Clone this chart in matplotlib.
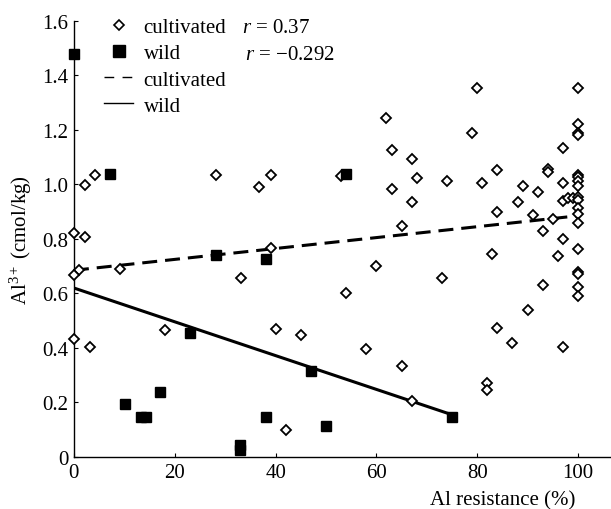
import numpy as np
import matplotlib
matplotlib.use("Agg")
import matplotlib.pyplot as plt
from matplotlib.lines import Line2D

plt.rcParams['font.family'] = ['Liberation Serif', 'DejaVu Serif']
plt.rcParams['mathtext.fontset'] = 'custom'
plt.rcParams['mathtext.rm'] = 'Liberation Serif'
plt.rcParams['mathtext.it'] = 'Liberation Serif:italic'
plt.rcParams['font.size'] = 15

# cultivated accessions: Al resistance (%) vs Al3+ (cmol/kg)
cult_x = [0.1, 2.1, 1.0, 0.1, 0.1, 3.2, 2.1, 4.1, 9.1, 18.1, 28.1, 33.1, 36.7, 39, 39,
          40.1, 42.1, 45.1, 52.9, 54, 58, 60, 62, 63, 63, 65, 65, 67, 67, 67.1, 68,
          73, 74, 79, 80, 81, 81.9, 81.9, 83, 84, 84, 84, 87, 88, 89, 90, 91, 92, 93,
          93, 94, 94, 95, 96, 97, 97, 97, 97, 97, 98, 99,
          100, 100, 100, 100, 100, 100, 100, 100, 100, 100, 100, 100, 100, 100, 100,
          100, 100, 100]
cult_y = [0.823, 0.808, 0.686, 0.669, 0.433, 0.405, 0.997, 1.033, 0.691, 0.466, 1.035,
          0.655, 0.99, 1.036, 0.767, 0.468, 0.1, 0.446, 1.03, 0.6, 0.398, 0.699, 1.244,
          1.126, 0.982, 0.847, 0.334, 1.092, 0.935, 0.204, 1.022, 0.658, 1.012, 1.19,
          1.353, 1.004, 0.271, 0.245, 0.746, 1.053, 0.898, 0.473, 0.42, 0.935, 0.994,
          0.541, 0.889, 0.971, 0.83, 0.631, 1.057, 1.044, 0.874, 0.736, 1.134, 1.006,
          0.94, 0.8, 0.402, 0.952, 0.952,
          1.353, 1.22, 1.19, 1.18, 1.036, 1.026, 1.014, 0.996, 0.955, 0.944, 0.913,
          0.89, 0.858, 0.764, 0.679, 0.671, 0.622, 0.592]

# wild accessions
wild_x = [0, 7.1, 54, 28.2, 38.1, 23, 47, 10.1, 17.1, 13.3, 14.3, 33, 33, 38.1, 50, 75]
wild_y = [1.48, 1.04, 1.04, 0.74, 0.725, 0.455, 0.315, 0.195, 0.24, 0.145, 0.145,
          0.045, 0.025, 0.145, 0.115, 0.145]

# regression lines (intercept, slope, x range)
cult_fit = (0.685, 0.002, 0, 100)
wild_fit = (0.62, -0.0062, 0, 75)
cult_r = "0.37"
wild_r = "\u22120.292"

xticks = [0, 20, 40, 60, 80, 100]
yticks = [0, 0.2, 0.4, 0.6, 0.8, 1.0, 1.2, 1.4, 1.6]
ytick_labels = ["0", "0.2", "0.4", "0.6", "0.8", "1.0", "1.2", "1.4", "1.6"]

fig = plt.figure(figsize=(6.11, 5.10), dpi=100)
ax = fig.add_axes([0.121, 0.102, 0.877, 0.855])

for b0, b1, x0, x1, ls in [(*cult_fit, (0, (4.9, 2.6))), (*wild_fit, '-')]:
    xs = np.array([x0, x1])
    ax.plot(xs, b0 + b1 * xs, color='black', lw=2.2, linestyle=ls, zorder=2)

ax.plot(cult_x, cult_y, linestyle='none', marker='D', ms=4.8, mfc='white',
        mec='black', mew=1.3, clip_on=False, zorder=3)
ax.plot(wild_x, wild_y, linestyle='none', marker='s', ms=6.5, mfc='black',
        mec='black', clip_on=False, zorder=4)

ax.set_xlim(0, 106.3)
ax.set_ylim(0, 1.6)
ax.set_xticks(xticks)
ax.set_yticks(yticks)
ax.set_yticklabels(ytick_labels)
ax.tick_params(direction='in', length=3, width=0.8, pad=4)
for s in ['top', 'right']:
    ax.spines[s].set_visible(False)
for s in ['left', 'bottom']:
    ax.spines[s].set_linewidth(1.0)

ax.set_xlabel("Al resistance (%)", ha='right')
ax.xaxis.set_label_coords(0.935, -0.077)
ax.set_ylabel(r"Al$^{3+}$ (cmol/kg)", labelpad=6)

handles = [
    Line2D([], [], linestyle='none', marker='D', ms=4.8, mfc='white', mec='black', mew=1.2),
    Line2D([], [], linestyle='none', marker='s', ms=8.5, mfc='black', mec='black'),
    Line2D([], [], color='black', lw=1.0, linestyle=(0, (7, 6))),
    Line2D([], [], color='black', lw=1.0, linestyle='-'),
]
labels = ["cultivated", "wild", "cultivated", "wild"]
ax.legend(handles, labels, loc='upper left', bbox_to_anchor=(0.056, 1.008),
          frameon=False, handlelength=1.4, handletextpad=0.5, labelspacing=0.32,
          borderpad=0, borderaxespad=0)
ax.text(0.313, 0.985, r"$\it{r}$ = " + cult_r, transform=ax.transAxes, va='center')
ax.text(0.319, 0.924, r"$\it{r}$ = " + wild_r, transform=ax.transAxes, va='center')

fig.savefig("out.png", dpi=100)
